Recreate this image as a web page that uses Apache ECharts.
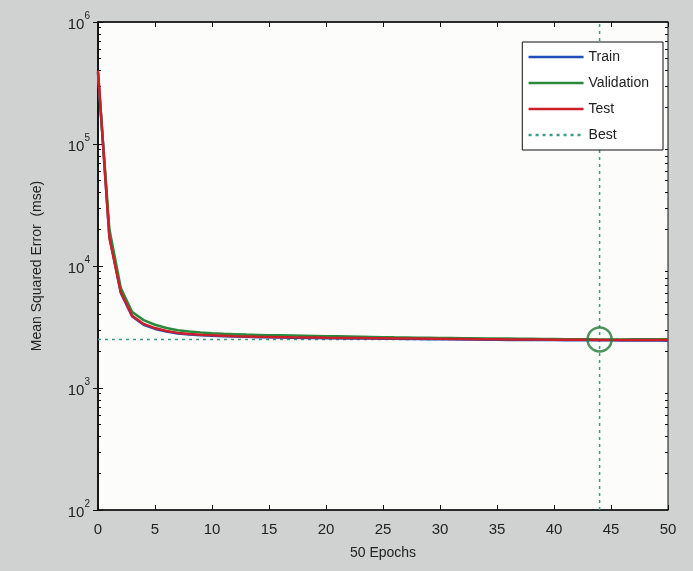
<!DOCTYPE html>
<html>
<head>
<meta charset="utf-8">
<script src="https://cdn.jsdelivr.net/npm/echarts@6/dist/echarts.min.js"></script>
<style>
  html, body { margin: 0; padding: 0; background: #cfd2d1; }
  #chart { width: 693px; height: 571px; }
</style>
</head>
<body>
<div id="chart"></div>
<script>
// performance curves, one value per epoch (0..50)
const epochs = Array.from({ length: 51 }, (_, i) => i);

const trainData = [390000, 17500, 6000, 3850, 3300, 3050, 2900, 2800, 2740, 2700,
  2675, 2655, 2640, 2625, 2610, 2600, 2590, 2580, 2575, 2570,
  2560, 2555, 2550, 2545, 2540, 2535, 2530, 2525, 2520, 2515,
  2510, 2505, 2500, 2495, 2490, 2485, 2480, 2478, 2475, 2472,
  2470, 2468, 2465, 2462, 2460, 2458, 2455, 2452, 2450, 2448, 2445];

const validationData = [380000, 20000, 6600, 4200, 3600, 3300, 3100, 2980, 2900, 2850,
  2810, 2780, 2760, 2740, 2725, 2710, 2700, 2690, 2680, 2670,
  2660, 2650, 2640, 2630, 2620, 2610, 2600, 2595, 2585, 2580,
  2570, 2565, 2560, 2555, 2550, 2545, 2540, 2535, 2530, 2525,
  2520, 2515, 2510, 2505, 2500, 2500, 2500, 2505, 2505, 2505, 2505];

const testData = [400000, 17000, 6100, 3900, 3350, 3100, 2930, 2830, 2770, 2730,
  2700, 2680, 2660, 2645, 2630, 2620, 2610, 2600, 2595, 2590,
  2580, 2575, 2570, 2565, 2560, 2555, 2550, 2545, 2540, 2535,
  2530, 2525, 2520, 2515, 2510, 2505, 2500, 2500, 2495, 2495,
  2490, 2490, 2485, 2485, 2480, 2480, 2480, 2478, 2476, 2475, 2475];

const bestEpoch = 44;
const bestValue = 2500;
const xRange = [0, 50];
const yRange = [100, 1000000];

// MATLAB-style minor ticks at 2..9 of each decade
const minorTicks = [];
for (let d = 100; d < 1000000; d *= 10) {
  for (let k = 2; k <= 9; k++) minorTicks.push(d * k);
}

const pairs = (arr) => epochs.map((e, i) => [e, arr[i]]);

const chart = echarts.init(document.getElementById('chart'));

const supLabel = (value) => {
  const exp = Math.round(Math.log10(value));
  return '{b|10}{s|' + exp + '}';
};

const axisColor = '#111';
const fontFamily = 'Liberation Sans, Arial, sans-serif';

const minorAxis = (position) => ({
  type: 'log', logBase: 10, min: yRange[0], max: yRange[1], position: position,
  axisLine: { show: false },
  axisTick: { show: true, inside: true, length: 3, customValues: minorTicks, lineStyle: { color: axisColor } },
  axisLabel: { show: false },
  splitLine: { show: false }
});

chart.setOption({
  backgroundColor: '#cfd2d1',
  animation: false,
  grid: { left: 98, right: 25, top: 22, bottom: 61, show: true, backgroundColor: '#fcfcfb', borderColor: axisColor, borderWidth: 1 },
  legend: {
    data: ['Train', 'Validation', 'Test', 'Best'],
    orient: 'vertical',
    right: 30,
    top: 42,
    itemWidth: 55,
    itemHeight: 14,
    itemGap: 12,
    padding: [8, 14, 8, 5],
    backgroundColor: '#fff',
    borderColor: axisColor,
    borderWidth: 1,
    borderRadius: 0,
    itemStyle: { opacity: 0 },
    lineStyle: { width: 2.5 },
    textStyle: { fontFamily: fontFamily, fontSize: 14, color: '#222' }
  },
  xAxis: [
    {
      type: 'value', min: xRange[0], max: xRange[1], interval: 5,
      name: '50 Epochs', nameLocation: 'middle', nameGap: 36,
      nameTextStyle: { fontFamily: fontFamily, fontSize: 14, color: '#222' },
      axisLine: { lineStyle: { color: axisColor, width: 1.5 } },
      axisTick: { inside: true, length: 5, lineStyle: { color: axisColor } },
      axisLabel: { fontFamily: fontFamily, fontSize: 15, color: '#222', margin: 12 },
      splitLine: { show: false }
    },
    {
      type: 'value', min: xRange[0], max: xRange[1], interval: 5, position: 'top',
      axisLine: { lineStyle: { color: axisColor, width: 1.5 } },
      axisTick: { inside: true, length: 5, lineStyle: { color: axisColor } },
      axisLabel: { show: false },
      splitLine: { show: false }
    }
  ],
  yAxis: [
    {
      type: 'log', logBase: 10, min: yRange[0], max: yRange[1],
      name: 'Mean Squared Error  (mse)', nameLocation: 'middle', nameGap: 54,
      nameTextStyle: { fontFamily: fontFamily, fontSize: 14, color: '#222' },
      axisLine: { show: true, lineStyle: { color: axisColor, width: 1.5 } },
      axisTick: { inside: true, length: 5, lineStyle: { color: axisColor } },
      axisLabel: {
        formatter: supLabel,
        margin: 8,
        rich: {
          b: { fontFamily: fontFamily, fontSize: 15, color: '#222', padding: [6, 0, 0, 0] },
          s: { fontFamily: fontFamily, fontSize: 10, color: '#222', verticalAlign: 'top', padding: [0, 0, 6, 0] }
        }
      },
      splitLine: { show: false }
    },
    {
      type: 'log', logBase: 10, min: yRange[0], max: yRange[1], position: 'right',
      axisLine: { show: true, lineStyle: { color: axisColor, width: 1.5 } },
      axisTick: { inside: true, length: 5, lineStyle: { color: axisColor } },
      axisLabel: { show: false },
      splitLine: { show: false }
    },
    minorAxis('left'),
    minorAxis('right')
  ],
  series: [
    {
      name: 'Best', type: 'line', data: [[xRange[0], bestValue], [xRange[1], bestValue]],
      symbol: 'none', z: 1,
      lineStyle: { color: '#3d9a86', width: 1.5, type: [3, 4] },
      itemStyle: { color: '#3d9a86' }
    },
    {
      name: 'Best', type: 'line', data: [[bestEpoch, yRange[0]], [bestEpoch, yRange[1]]],
      symbol: 'none', z: 1,
      lineStyle: { color: '#3d9a86', width: 1.5, type: [3, 4] },
      itemStyle: { color: '#3d9a86' }
    },
    {
      name: 'Train', type: 'line', data: pairs(trainData), symbol: 'none', z: 2,
      lineStyle: { color: '#1f4fbf', width: 2.5 }, itemStyle: { color: '#1f4fbf' }
    },
    {
      name: 'Validation', type: 'line', data: pairs(validationData), symbol: 'none', z: 3,
      lineStyle: { color: '#2a8a3a', width: 2.5 }, itemStyle: { color: '#2a8a3a' }
    },
    {
      name: 'Test', type: 'line', data: pairs(testData), symbol: 'none', z: 4,
      lineStyle: { color: '#cc1f2a', width: 2.5 }, itemStyle: { color: '#cc1f2a' }
    },
    {
      name: 'bestPoint', type: 'scatter', data: [[bestEpoch, bestValue]],
      symbol: 'circle', symbolSize: 24, z: 5,
      itemStyle: { color: 'rgba(0,0,0,0)', borderColor: '#1f7a34', borderWidth: 2.5 }
    }
  ]
});
</script>
</body>
</html>
